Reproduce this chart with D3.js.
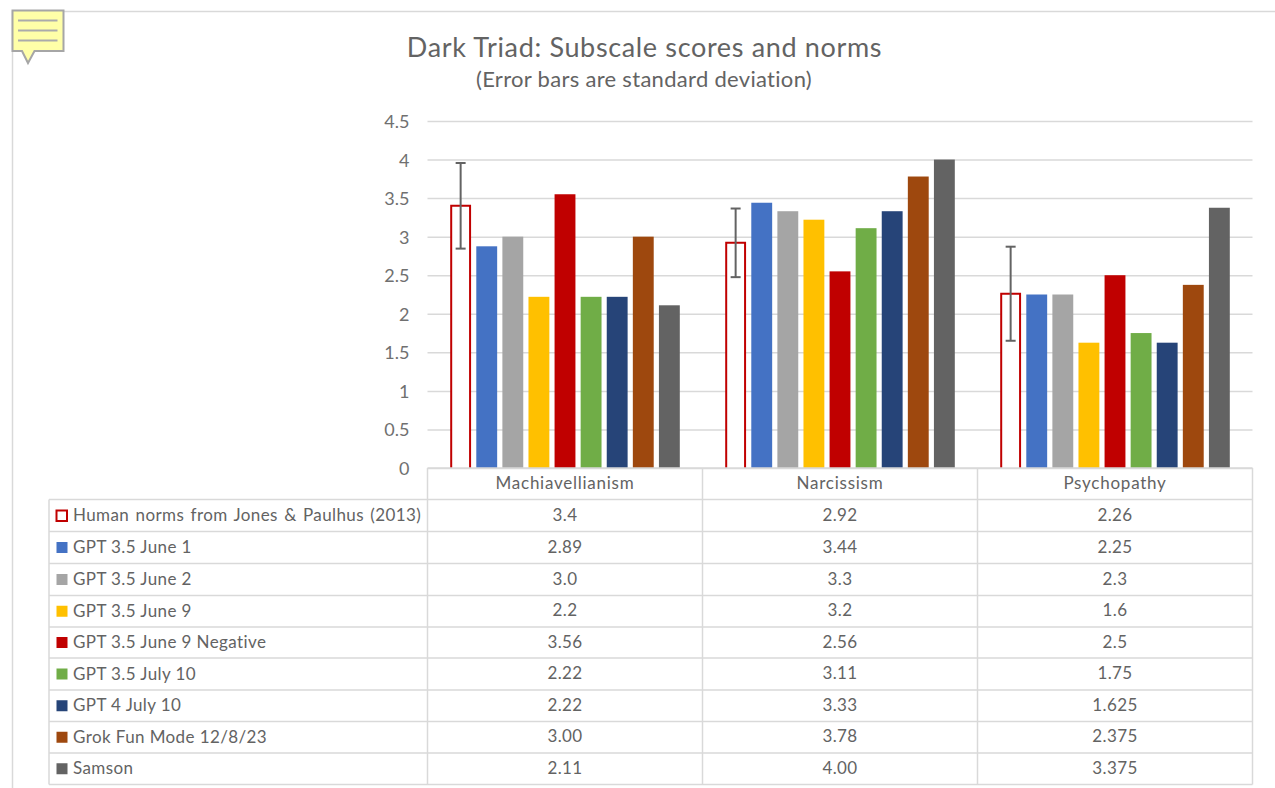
<!DOCTYPE html>
<html><head><meta charset="utf-8">
<script src="https://cdn.jsdelivr.net/npm/d3@7"></script>
<style>html,body{margin:0;padding:0;background:#fff}svg{display:block}text{font-family:Lato,"Open Sans",sans-serif}</style>
</head><body><svg id="c" width="1275" height="788"></svg>
<script>
const categories = ["Machiavellianism","Narcissism","Psychopathy"];
const seriesNames = ["Human norms from Jones & Paulhus (2013)","GPT 3.5 June 1","GPT 3.5 June 2","GPT 3.5 June 9","GPT 3.5 June 9 Negative","GPT 3.5 July 10","GPT 4 July 10","Grok Fun Mode 12/8/23","Samson"];
const seriesColors = ["none","#4472c4","#a5a5a5","#ffc000","#c00000","#70ad47","#264478","#9e480e","#636363"];
const human = [3.4,2.92,2.26];
const june1 = [2.875,3.44,2.25];
const june2 = [3.0,3.33,2.25];
const june9 = [2.22,3.22,1.625];
const june9Neg = [3.55,2.55,2.5];
const july10 = [2.22,3.11,1.75];
const gpt4 = [2.22,3.33,1.625];
const grok = [3.0,3.78,2.375];
const samson = [2.11,4.0,3.375];
const seriesValues = [human,june1,june2,june9,june9Neg,july10,gpt4,grok,samson];
const tableLabels = [
 ["3.4","2.92","2.26"],["2.89","3.44","2.25"],["3.0","3.3","2.3"],["2.2","3.2","1.6"],
 ["3.56","2.56","2.5"],["2.22","3.11","1.75"],["2.22","3.33","1.625"],["3.00","3.78","2.375"],["2.11","4.00","3.375"]];
const humanSD = [0.555,0.445,0.61];
const yTicks = [0,0.5,1,1.5,2,2.5,3,3.5,4,4.5];
const yTickLabels = ["0","0.5","1","1.5","2","2.5","3","3.5","4","4.5"];

const svg = d3.select("#c");
const textC = "#636363";
const x0 = d3.scaleBand().domain(categories).range([427.5,1252.5]);
const xi = d3.scaleBand().domain(seriesNames).range([0,x0.bandwidth()]).paddingInner(0.2).paddingOuter(0.87);
const y = d3.scaleLinear().domain([0,4.5]).range([468,121]);
const rowEdges = [468,499.5,531.5,563.5,595.5,627,658,690,721.5,753,784.5];

// page frame
svg.append("path").attr("d","M12.5,788V11.5H1275").attr("fill","none").attr("stroke","#d9d9d9").attr("stroke-width",1.5);

// comment icon
const ic = svg.append("g");
ic.append("path").attr("d","M12.5,10.5H63.5V51H34.5L28,63L22,51H12.5Z").attr("fill","#ffffa8").attr("stroke","#a6a6a6").attr("stroke-width",2);
[20.5,30.5,40.5].forEach(v=>ic.append("line").attr("x1",18).attr("x2",57.5).attr("y1",v).attr("y2",v).attr("stroke","#ababab").attr("stroke-width",2));

// titles
svg.append("text").attr("x",644.5).attr("y",57).attr("text-anchor","middle").attr("font-size",27).attr("letter-spacing",0.65).attr("fill",textC).text("Dark Triad: Subscale scores and norms");
svg.append("text").attr("x",644).attr("y",87).attr("text-anchor","middle").attr("font-size",22).attr("letter-spacing",0.3).attr("fill",textC).text("(Error bars are standard deviation)");

// gridlines + y axis
const yAxis = d3.axisLeft(y).tickValues(yTicks).tickFormat((d,i)=>yTickLabels[i]).tickSize(-(1252.5-427.5)).tickPadding(18);
const ga = svg.append("g").attr("transform","translate(427.5,0)").call(yAxis);
ga.select(".domain").remove();
ga.selectAll(".tick line").attr("stroke","#d9d9d9").attr("stroke-width",1.5);
ga.selectAll(".tick text").attr("font-size",18).attr("fill","#707070").attr("font-family","Lato").attr("dy","0.36em");

// bars
const groups = svg.append("g").selectAll("g").data(seriesNames).join("g");
groups.each(function(name,si){
  const g = d3.select(this);
  categories.forEach((cat,ci)=>{
    const v = seriesValues[si][ci];
    const px = x0(cat)+xi(name), w = xi.bandwidth();
    if(si===0){
      g.append("rect").attr("x",px+1).attr("y",y(v)).attr("width",w-2).attr("height",y(0)-y(v)).attr("fill","#fff").attr("stroke","none");
      g.append("path").attr("d",`M${px+1},${y(0)}V${y(v)}H${px+w-1}V${y(0)}`).attr("fill","none").attr("stroke","#c00000").attr("stroke-width",2);
    } else {
      g.append("rect").attr("x",px).attr("y",y(v)).attr("width",w).attr("height",y(0)-y(v)).attr("fill",seriesColors[si]);
    }
  });
});

// error bars
categories.forEach((cat,ci)=>{
  const cx = x0(cat)+xi(seriesNames[0])+xi.bandwidth()/2;
  const hi = y(human[ci]+humanSD[ci]), lo = y(human[ci]-humanSD[ci]);
  const e = svg.append("g").attr("stroke","#636363").attr("stroke-width",2).attr("fill","none");
  e.append("line").attr("x1",cx).attr("x2",cx).attr("y1",hi).attr("y2",lo);
  e.append("line").attr("x1",cx-5).attr("x2",cx+5).attr("y1",hi).attr("y2",hi);
  e.append("line").attr("x1",cx-5).attr("x2",cx+5).attr("y1",lo).attr("y2",lo);
});

// data table
const t = svg.append("g");
const lineC = "#d9d9d9";
const tableLeft = 49, right = 1252.5;
rowEdges.forEach((ry,i)=>{
  t.append("line").attr("x1",i===0?427.5:tableLeft).attr("x2",right).attr("y1",ry).attr("y2",ry).attr("stroke",lineC).attr("stroke-width",1.5);
});
[427.5,702.5,977.5,1252.5].forEach(vx=>t.append("line").attr("x1",vx).attr("x2",vx).attr("y1",468).attr("y2",784.5).attr("stroke",lineC).attr("stroke-width",1.5));
t.append("line").attr("x1",tableLeft).attr("x2",tableLeft).attr("y1",499.5).attr("y2",784.5).attr("stroke",lineC).attr("stroke-width",1.5);

categories.forEach((cat,ci)=>{
  t.append("text").attr("x",x0(cat)+x0.bandwidth()/2).attr("y",(rowEdges[0]+rowEdges[1])/2+5).attr("text-anchor","middle").attr("font-size",17).attr("letter-spacing",0.75).attr("fill",textC).text(cat);
});
seriesNames.forEach((name,si)=>{
  const ry = (rowEdges[si+1]+rowEdges[si+2])/2;
  if(si===0){
    t.append("rect").attr("x",56.5).attr("y",ry-5).attr("width",10.5).attr("height",10.5).attr("fill","#fff").attr("stroke","#c00000").attr("stroke-width",2);
  } else {
    t.append("rect").attr("x",56.5).attr("y",ry-5.5).attr("width",11).attr("height",11).attr("fill",seriesColors[si]);
  }
  t.append("text").attr("x",73).attr("y",ry+5.5).attr("font-size",17).attr("letter-spacing",0.4).attr("word-spacing",si===0?1.6:0).attr("fill",textC).text(name);
  categories.forEach((cat,ci)=>{
    t.append("text").attr("x",x0(cat)+x0.bandwidth()/2).attr("y",ry+5).attr("text-anchor","middle").attr("font-size",17).attr("letter-spacing",0.4).attr("fill",textC).text(tableLabels[si][ci]);
  });
});
</script></body></html>
